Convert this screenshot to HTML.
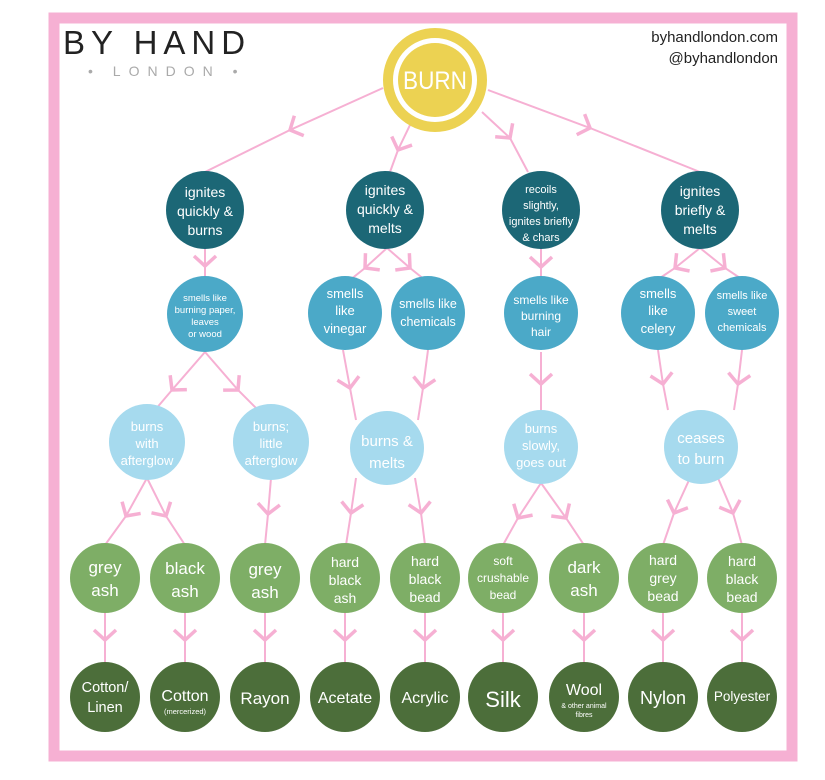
<!DOCTYPE html>
<html><head><meta charset="utf-8"><style>
html,body{margin:0;padding:0;background:#fff;}
svg{display:block;font-family:"Liberation Sans",sans-serif;}
</style></head><body>
<svg width="825" height="780" viewBox="0 0 825 780" xmlns="http://www.w3.org/2000/svg">
<defs>
<marker id="ch" markerUnits="userSpaceOnUse" markerWidth="40" markerHeight="40" refX="0" refY="0" viewBox="-20 -20 40 40" orient="auto" overflow="visible">
<path d="M-10,-11 L0,0 L-10,11" fill="none" stroke="#f6b0d3" stroke-width="3.5" stroke-linecap="butt"/>
</marker>
</defs>
<rect x="0" y="0" width="825" height="780" fill="#fff"/>
<rect x="54" y="18" width="738" height="738" fill="none" stroke="#f6b0d3" stroke-width="11"/>

<text x="63" y="54" font-size="33" fill="#222" letter-spacing="6">BY HAND</text>
<text x="88" y="76" font-size="14" fill="#aaa" letter-spacing="8">• LONDON •</text>
<text x="778" y="42" font-size="15" fill="#222" text-anchor="end">byhandlondon.com</text>
<text x="778" y="63" font-size="15" fill="#222" text-anchor="end">@byhandlondon</text>

<g fill="none" stroke="#f6b0d3" stroke-width="2" marker-mid="url(#ch)">
<path d="M383,88 L290,130 L205,172"/>
<path d="M410,125 L398,150 L390,172"/>
<path d="M482,112 L510,138 L528,172"/>
<path d="M488,90 L590,128 L700,172"/>
<path d="M205,248 L205,266 L205,277"/>
<path d="M387,248 L365,268 L350,280"/>
<path d="M387,248 L410,268 L425,280"/>
<path d="M541,248 L541,267 L541,278"/>
<path d="M700,248 L675,268 L660,278"/>
<path d="M700,248 L725,268 L740,278"/>
<path d="M205,352 L172,390 L155,410"/>
<path d="M205,352 L238,390 L258,410"/>
<path d="M343,350 L350,388 L356,420"/>
<path d="M428,350 L423,388 L418,420"/>
<path d="M541,352 L541,384 L541,410"/>
<path d="M658,350 L663,384 L668,410"/>
<path d="M742,350 L738,384 L734,410"/>
<path d="M147,478 L126,516 L105,545"/>
<path d="M147,478 L166,516 L185,545"/>
<path d="M271,478 L268,514 L265,545"/>
<path d="M356,478 L351,513 L346,545"/>
<path d="M415,478 L421,513 L425,545"/>
<path d="M541,483 L518,518 L503,545"/>
<path d="M541,483 L566,518 L584,545"/>
<path d="M690,478 L674,513 L663,545"/>
<path d="M718,478 L733,513 L742,545"/>
<path d="M105,610 L105,640 L105,664"/>
<path d="M185,610 L185,640 L185,664"/>
<path d="M265,610 L265,640 L265,664"/>
<path d="M345,610 L345,640 L345,664"/>
<path d="M425,610 L425,640 L425,664"/>
<path d="M503,610 L503,640 L503,664"/>
<path d="M584,610 L584,640 L584,664"/>
<path d="M663,610 L663,640 L663,664"/>
<path d="M742,610 L742,640 L742,664"/>
</g>

<!-- BURN -->
<circle cx="435" cy="80" r="47" fill="none" stroke="#ecd252" stroke-width="10"/>
<circle cx="435" cy="80" r="37" fill="#ecd252"/>
<text x="435" y="89" font-size="25" fill="#fff" text-anchor="middle" textLength="64" lengthAdjust="spacingAndGlyphs">BURN</text>

<g fill="#1c6776">
<circle cx="205" cy="210" r="39"/><circle cx="385" cy="210" r="39"/>
<circle cx="541" cy="210" r="39"/><circle cx="700" cy="210" r="39"/>
</g>
<g fill="#fff" text-anchor="middle" font-size="14">
<text x="205" y="197">ignites</text><text x="205" y="216">quickly &amp;</text><text x="205" y="235">burns</text>
<text x="385" y="195">ignites</text><text x="385" y="214">quickly &amp;</text><text x="385" y="233">melts</text>
<text x="541" y="193" font-size="11">recoils</text><text x="541" y="209" font-size="11">slightly,</text><text x="541" y="225" font-size="11">ignites briefly</text><text x="541" y="241" font-size="11">&amp; chars</text>
<text x="700" y="196">ignites</text><text x="700" y="215">briefly &amp;</text><text x="700" y="234">melts</text>
</g>

<g fill="#4ba9c8">
<circle cx="205" cy="314" r="38"/><circle cx="345" cy="313" r="37"/>
<circle cx="428" cy="313" r="37"/><circle cx="541" cy="313" r="37"/>
<circle cx="658" cy="313" r="37"/><circle cx="742" cy="313" r="37"/>
</g>
<g fill="#fff" text-anchor="middle" font-size="13">
<text x="205" y="301" font-size="9.5">smells like</text><text x="205" y="313" font-size="9.5">burning paper,</text><text x="205" y="325" font-size="9.5">leaves</text><text x="205" y="337" font-size="9.5">or wood</text>
<text x="345" y="298">smells</text><text x="345" y="315">like</text><text x="345" y="333">vinegar</text>
<text x="428" y="308" font-size="12.5">smells like</text><text x="428" y="326" font-size="12.5">chemicals</text>
<text x="541" y="304" font-size="12">smells like</text><text x="541" y="320" font-size="12">burning</text><text x="541" y="336" font-size="12">hair</text>
<text x="658" y="298">smells</text><text x="658" y="315">like</text><text x="658" y="333">celery</text>
<text x="742" y="299" font-size="11">smells like</text><text x="742" y="315" font-size="11">sweet</text><text x="742" y="331" font-size="11">chemicals</text>
</g>

<g fill="#a6daee">
<circle cx="147" cy="442" r="38"/><circle cx="271" cy="442" r="38"/>
<circle cx="387" cy="448" r="37"/><circle cx="541" cy="447" r="37"/>
<circle cx="701" cy="447" r="37"/>
</g>
<g fill="#fff" text-anchor="middle" font-size="13">
<text x="147" y="431">burns</text><text x="147" y="448">with</text><text x="147" y="465">afterglow</text>
<text x="271" y="431">burns;</text><text x="271" y="448">little</text><text x="271" y="465">afterglow</text>
<text x="387" y="446" font-size="15">burns &amp;</text><text x="387" y="468" font-size="15">melts</text>
<text x="541" y="433">burns</text><text x="541" y="450">slowly,</text><text x="541" y="467">goes out</text>
<text x="701" y="443" font-size="15">ceases</text><text x="701" y="464" font-size="15">to burn</text>
</g>

<g fill="#7eae66">
<circle cx="105" cy="578" r="35"/><circle cx="185" cy="578" r="35"/><circle cx="265" cy="578" r="35"/>
<circle cx="345" cy="578" r="35"/><circle cx="425" cy="578" r="35"/><circle cx="503" cy="578" r="35"/>
<circle cx="584" cy="578" r="35"/><circle cx="663" cy="578" r="35"/><circle cx="742" cy="578" r="35"/>
</g>
<g fill="#fff" text-anchor="middle" font-size="17">
<text x="105" y="573">grey</text><text x="105" y="596">ash</text>
<text x="185" y="574">black</text><text x="185" y="597">ash</text>
<text x="265" y="575">grey</text><text x="265" y="598">ash</text>
<text x="345" y="567" font-size="14">hard</text><text x="345" y="585" font-size="14">black</text><text x="345" y="603" font-size="14">ash</text>
<text x="425" y="566" font-size="14">hard</text><text x="425" y="584" font-size="14">black</text><text x="425" y="602" font-size="14">bead</text>
<text x="503" y="565" font-size="12">soft</text><text x="503" y="582" font-size="12">crushable</text><text x="503" y="599" font-size="12">bead</text>
<text x="584" y="573">dark</text><text x="584" y="596">ash</text>
<text x="663" y="565" font-size="14">hard</text><text x="663" y="583" font-size="14">grey</text><text x="663" y="601" font-size="14">bead</text>
<text x="742" y="566" font-size="14">hard</text><text x="742" y="584" font-size="14">black</text><text x="742" y="602" font-size="14">bead</text>
</g>

<g fill="#4c6e3a">
<circle cx="105" cy="697" r="35"/><circle cx="185" cy="697" r="35"/><circle cx="265" cy="697" r="35"/>
<circle cx="345" cy="697" r="35"/><circle cx="425" cy="697" r="35"/><circle cx="503" cy="697" r="35"/>
<circle cx="584" cy="697" r="35"/><circle cx="663" cy="697" r="35"/><circle cx="742" cy="697" r="35"/>
</g>
<g fill="#fff" text-anchor="middle" font-size="16">
<text x="105" y="692" font-size="14.5">Cotton/</text><text x="105" y="712" font-size="14.5">Linen</text>
<text x="185" y="701">Cotton</text><text x="185" y="714" font-size="7.5">(mercerized)</text>
<text x="265" y="704" font-size="17">Rayon</text>
<text x="345" y="703">Acetate</text>
<text x="425" y="703">Acrylic</text>
<text x="503" y="707" font-size="22">Silk</text>
<text x="584" y="695" font-size="16">Wool</text><text x="584" y="708" font-size="7">&amp; other animal</text><text x="584" y="717" font-size="7">fibres</text>
<text x="663" y="704" font-size="18">Nylon</text>
<text x="742" y="701" font-size="13.5">Polyester</text>
</g>
</svg>
</body></html>
